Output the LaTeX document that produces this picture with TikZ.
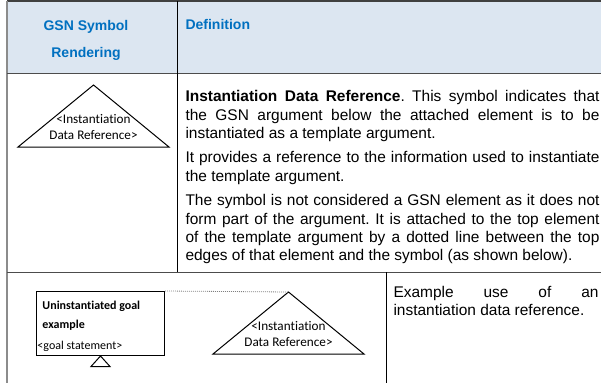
\documentclass[tikz,border=0pt]{standalone}
\usepackage{fontspec}
\setmainfont{Liberation Sans}
\newfontfamily\calibri[Ligatures=NoCommon]{Carlito}
\usetikzlibrary{positioning}

\definecolor{hdrfill}{HTML}{DCE6F1}
\definecolor{hdrblue}{HTML}{0070C0}
\definecolor{rulegray}{HTML}{8C8C8C}

\begin{document}
\begin{tikzpicture}[x=0.75pt,y=-0.75pt,line width=0.75pt,
	every node/.style={inner sep=0pt},
	hdr/.style={font=\fontsize{10.5}{12}\selectfont\bfseries,text=hdrblue},
	deftext/.style={anchor=north west,text width=#1,align=justify,
		font=\fontsize{11.6}{13.8}\selectfont\frenchspacing},
	symtext/.style={align=center,font=\calibri\fontsize{9.9}{11.8}\selectfont},
	goaltext/.style={anchor=north west,align=left,font=\calibri\fontsize{9}{13.9}\selectfont},
	idr/.style={draw,line join=miter}]
	\useasboundingbox (0,0) rectangle (601,383);
	% header row
	\fill[hdrfill] (7,1) rectangle (601,73);
	\draw[line width=1.2pt,black!75] (7,1) -- (601,1);
	\draw[line width=1.2pt,rulegray] (7,1) -- (7,383);
	\draw[black!70] (7,73) -- (601,73);
	\draw (177,1) -- (177,272);
	\draw[black!70] (7,272) -- (601,272);
	\draw (386,272) -- (386,383);
	\node[hdr,align=center] (colsym) at (86,40.5) {GSN Symbol\\[8pt]Rendering};
	\node[hdr,anchor=west] (coldef) at (185,24) {Definition};
	% symbol rendering
	\coordinate (top1) at (93.5,85);
	\draw[idr] (top1) -- (169,147) -- (18,147) -- cycle;
	\node[symtext] (sym1) at (93.5,127) {<Instantiation\\Data Reference>};
	% definition
	\node[deftext=310.5pt] (def) at (185,90) {\parindent=0pt\tolerance=10000\parskip=4.5pt
		\textbf{Instantiation Data Reference}. This symbol indicates that\linebreak
		the GSN argument below the attached element is to be\linebreak
		instantiated as a template argument.\par
		It provides a reference to the information used to instantiate\linebreak
		the template argument.\par
		The symbol is not considered a GSN element as it does not\linebreak
		form part of the argument. It is attached to the top element\linebreak
		of the template argument by a dotted line between the top\linebreak
		edges of that element and the symbol (as shown below).};
	% example
	\node[draw,minimum width=96pt,minimum height=48pt,anchor=north west] (goal) at (36,291) {};
	\node[goaltext,font=\calibri\fontsize{9}{13.9}\selectfont\bfseries] (goalname) at (42,301) {Uninstantiated goal\\example};
	\node[goaltext] (goalstmt) at (37,341) {<goal statement>};
	\draw[idr] (goal.south) -- ++(9.5,10.5) -- ++(-19,0) -- cycle;
	\coordinate (top2) at (288.5,292);
	\draw[idr] (top2) -- (364,354) -- (213,354) -- cycle;
	\node[symtext] (sym2) at (288.5,334) {<Instantiation\\Data Reference>};
	\draw[gray,line width=0.6pt,dash pattern=on 0.6pt off 0.9pt] (goal.north east) -- (top2);
	\node[deftext=153.75pt] (note) at (393,285.5) {\tolerance=10000
		Example use of an\linebreak instantiation data reference.};
\end{tikzpicture}
\end{document}
